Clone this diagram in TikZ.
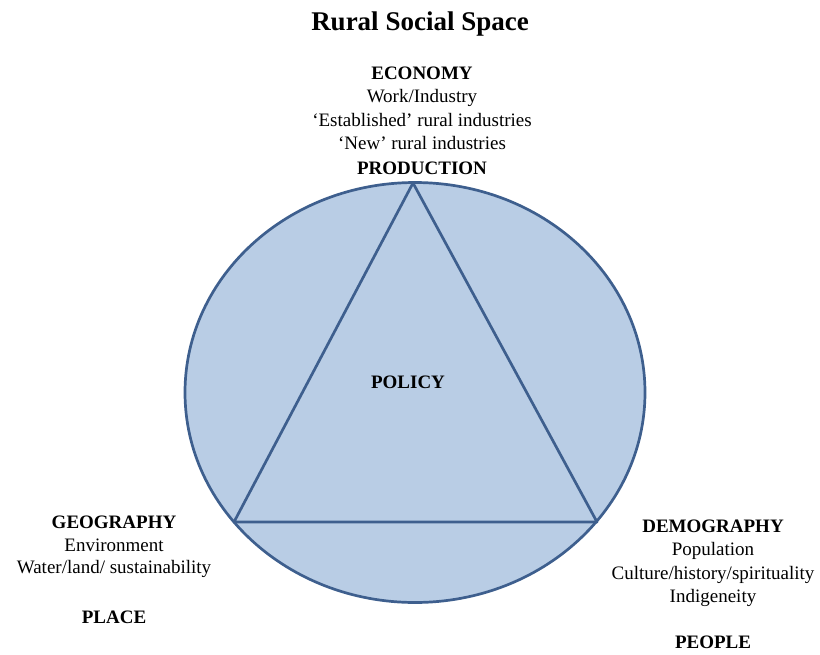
\documentclass[tikz,border=0pt]{standalone}
\usepackage{fontspec}
\setmainfont{Liberation Serif}
\usetikzlibrary{shapes.geometric}

\definecolor{spacefill}{RGB}{185,205,229}
\definecolor{spaceline}{RGB}{62,95,142}

\begin{document}
\begin{tikzpicture}[x=1pt,y=-1pt]

\tikzstyle{spacenode}=[ellipse,inner sep=0mm,minimum width=460pt,minimum height=420pt,line width=2.7pt,draw=spaceline,fill=spacefill]
\tikzstyle{edgeline}=[line width=2.7pt,draw=spaceline,line join=round]
\tikzstyle{titlenode}=[anchor=base,inner sep=0mm,font=\fontsize{27}{30}\selectfont\bfseries]
\tikzstyle{headnode}=[anchor=base,inner sep=0mm,font=\fontsize{19}{23}\selectfont\bfseries]
\tikzstyle{itemnode}=[anchor=base,inner sep=0mm,font=\fontsize{19}{23}\selectfont]

\useasboundingbox (0,0) rectangle (820,654);

\begin{scope}[]

\node [spacenode] (space) at (415,392.5){};
\coordinate (top) at (413,183);
\coordinate (left) at (234,522);
\coordinate (right) at (597,522);
\draw[edgeline] (top)--(left)--(right)--cycle;

\node [titlenode] (title) at (420,30){Rural Social Space};

\node [headnode] (eco) at (422,79){ECONOMY};
\node [itemnode] (eco1) at ([xshift=0em,yshift=-23.5pt]eco.base){Work/Industry};
\node [itemnode] (eco2) at ([xshift=0em,yshift=-23.5pt]eco1.base){`Established' rural industries};
\node [itemnode] (eco3) at ([xshift=0em,yshift=-23.5pt]eco2.base){`New' rural industries};
\node [headnode] (prod) at ([xshift=0em,yshift=-24.5pt]eco3.base){PRODUCTION};

\node [headnode] (policy) at (408,388){POLICY};

\node [headnode] (geo) at (114,528){GEOGRAPHY};
\node [itemnode] (geo1) at ([xshift=0em,yshift=-23.5pt]geo.base){Environment};
\node [itemnode] (geo2) at ([xshift=0em,yshift=-22pt]geo1.base){Water/land/ sustainability};
\node [headnode] (place) at ([xshift=0em,yshift=-50pt]geo2.base){PLACE};

\node [headnode] (dem) at (713,532){DEMOGRAPHY};
\node [itemnode] (dem1) at ([xshift=0em,yshift=-23.5pt]dem.base){Population};
\node [itemnode] (dem2) at ([xshift=0em,yshift=-23.5pt]dem1.base){Culture/history/spirituality};
\node [itemnode] (dem3) at ([xshift=0em,yshift=-23.5pt]dem2.base){Indigeneity};
\node [headnode] (people) at ([xshift=0em,yshift=-46pt]dem3.base){PEOPLE};

\end{scope}
\end{tikzpicture}
\end{document}
